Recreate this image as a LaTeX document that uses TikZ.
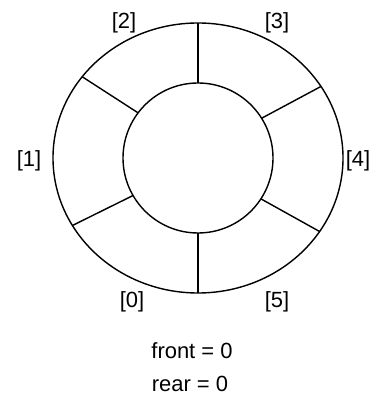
\documentclass[tikz,border=0pt]{standalone}
\usepackage{fontspec}
\setmainfont{Liberation Sans}
\usepackage{tikz}
\usetikzlibrary{positioning}

\begin{document}
\begin{tikzpicture}[
  font=\fontsize{12.5}{15}\selectfont,
  ring/.style={line width=0.8pt},
  slot/.style={inner sep=0pt},
  state/.style={inner sep=0pt,anchor=base},
]
\useasboundingbox (-3.96,-4.82) rectangle (3.46,3.16);
% rings
\draw[ring] (0,0) ellipse [x radius=2.9cm, y radius=2.7cm];
\draw[ring] (0,0) circle [radius=1.5cm];
% dividers between slots
\foreach \a [count=\i] in {90,143,210,270,327,32} {
  \coordinate (in\i)  at (\a:1.5);
  \coordinate (out\i) at ({2.9*cos(\a)},{2.7*sin(\a)});
  \draw[ring] (in\i) -- (out\i);
}
% slot indices
\node[slot] (s0) at (-1.32,-2.88) {[0]};
\node[slot] (s1) at (-3.38,-0.06) {[1]};
\node[slot] (s2) at (-1.48,2.70)  {[2]};
\node[slot] (s3) at (1.58,2.70)   {[3]};
\node[slot] (s4) at (3.20,-0.06)  {[4]};
\node[slot] (s5) at (1.58,-2.88)  {[5]};
% queue state
\node[state] (front) at (-0.12,-4.00) {front = 0};
\node[state] (rear)  at (-0.16,-4.66) {rear = 0};
\end{tikzpicture}
\end{document}
